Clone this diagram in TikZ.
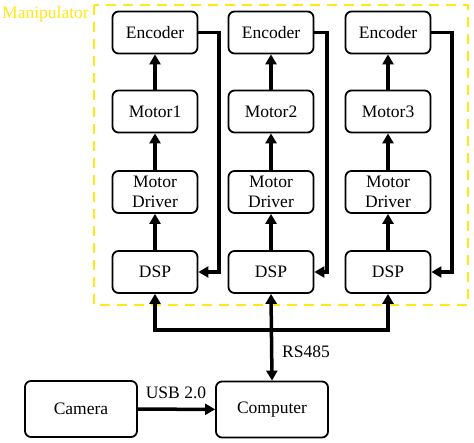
\documentclass[tikz,border=0pt]{standalone}
\usepackage{fontspec}
\setmainfont{Liberation Serif}
\newfontfamily\tnr{Liberation Serif}
\usetikzlibrary{arrows.meta}
\definecolor{dashyellow}{RGB}{255,232,20}
\tikzset{
  blk/.style={draw, line width=1.8pt, rounded corners=6pt, minimum width=85pt, minimum height=42pt, align=center, inner sep=1pt, font=\tnr\fontsize{17.5}{19.5}\selectfont},
  bigblk/.style={blk, minimum width=112pt, minimum height=56pt},
  conn/.style={line width=3.5pt, -{Triangle[length=10pt,width=11pt]}},
  bidir/.style={line width=3.5pt, {Triangle[length=10pt,width=11pt]}-{Triangle[length=10pt,width=11pt]}},
  lbl/.style={font=\tnr\fontsize{17.5}{17.5}\selectfont, inner sep=1pt}
}
\begin{document}
\begin{tikzpicture}[x=1pt,y=-1pt]
\useasboundingbox (0,0) rectangle (474,443);
\fill[white] (0,0) rectangle (474,443);
% manipulator frame
\draw[dashyellow, line width=2pt, dash pattern=on 10pt off 7pt] (94,5) rectangle (468,305);
\node[lbl, text=dashyellow, anchor=west] (manip) at (1,14) {Manipulator};
% columns
\foreach \i/\x/\m in {1/155/Motor1, 2/271/Motor2, 3/388/Motor3} {
  \node[blk] (enc\i) at (\x,32.5) {Encoder};
  \node[blk] (mot\i) at (\x,111.5) {\m};
  \node[blk] (drv\i) at (\x,192) {Motor\\Driver};
  \node[blk] (dsp\i) at (\x,272) {DSP};
  \draw[conn] (dsp\i) -- (drv\i);
  \draw[conn] (drv\i) -- (mot\i);
  \draw[conn] (mot\i) -- (enc\i);
}
\coordinate (f1) at (219,0);
\coordinate (f2) at (327,0);
\coordinate (f3) at (452,0);
\foreach \i in {1,2,3} {
  \draw[conn, line join=miter] (enc\i.east) -| (f\i |- dsp\i.east) -- (dsp\i.east);
}
% bus
\coordinate (busl) at (155,330);
\coordinate (busr) at (388,330);
\draw[line width=3.5pt, line cap=rect] (busl) -- (busr);
\draw[conn] (busl) -- (dsp1.south);
\draw[conn] (busr) -- (dsp3.south);
% bottom
\node[bigblk] (cam) at (81,409) {Camera};
\node[bigblk] (comp) at (272,409.5) {Computer};
\draw[bidir] (dsp2.south) -- (comp.north);
\node[lbl, anchor=west] (rs) at (281,352) {RS485};
\draw[conn] (cam) -- (comp);
\node[lbl] (usb) at (176,393) {USB 2.0};
\end{tikzpicture}
\end{document}
